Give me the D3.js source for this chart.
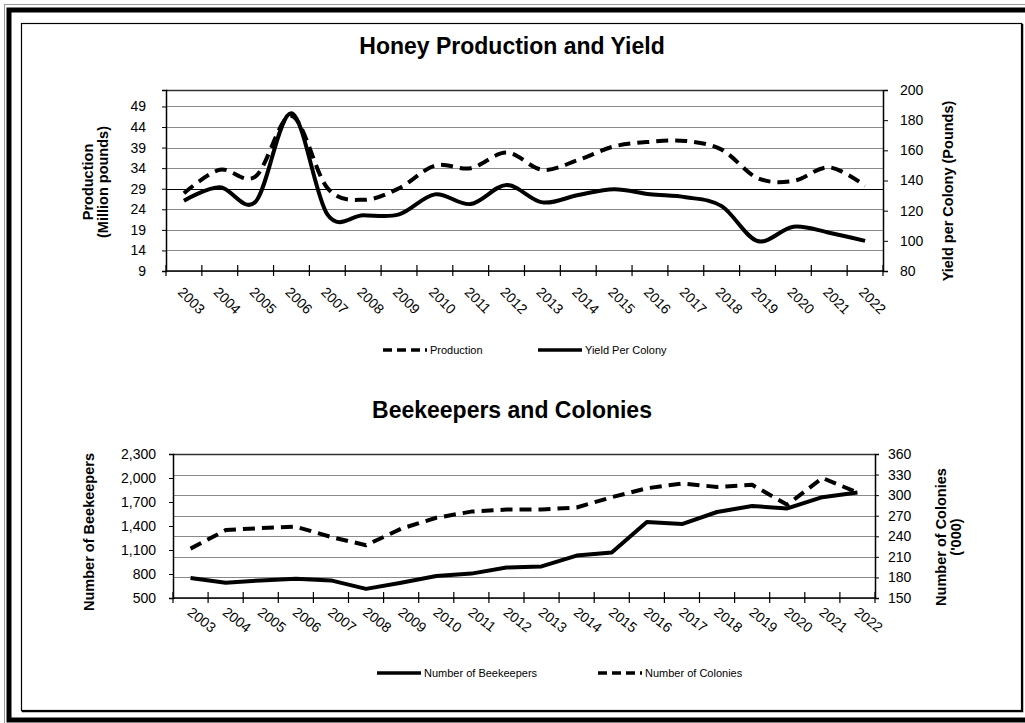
<!DOCTYPE html>
<html><head><meta charset="utf-8">
<script src="https://cdn.jsdelivr.net/npm/d3@7"></script>
<style>body{margin:0;background:#fff}svg text{font-family:Arial,"Liberation Sans",sans-serif;fill:#000}</style>
</head><body><svg id="c" width="1025" height="723"></svg>
<script>
const years = ["2003","2004","2005","2006","2007","2008","2009","2010","2011","2012","2013","2014","2015","2016","2017","2018","2019","2020","2021","2022"];
const production = [27.9,33.6,32.0,46.7,29.2,26.3,29.1,34.6,34.0,37.8,33.6,36.0,39.3,40.4,40.6,38.5,31.6,30.9,34.2,29.7];
const yieldPerColony = [126.6,135.5,126.0,184.6,117.5,117.0,117.5,130.8,124.4,137.0,125.5,130.4,134.2,130.9,128.9,123.0,99.9,109.4,105.4,100.0];
const prodTicks = [9,14,19,24,29,34,39,44,49];
const yieldTicks = [80,100,120,140,160,180,200];
const beekeepers = [750,690,720,740,720,614,690,776,805,881,895,1030,1070,1450,1424,1575,1650,1620,1760,1820];
const colonies = [222,249,252,254,239,227,251,267,276,279,279,282,297,310,317,312,315,286,325,304];
const keeperTicks = [500,800,1100,1400,1700,2000,2300];
const colonyTicks = [150,180,210,240,270,300,330,360];

const svg = d3.select("#c");
const ink = "#000";

// frames
svg.append("rect").attr("x",4.5).attr("y",4.5).attr("width",1040).attr("height",1040).attr("fill","none").attr("stroke","#999").attr("stroke-width",1);
svg.append("rect").attr("x",9).attr("y",10).attr("width",1040).attr("height",710).attr("fill","none").attr("stroke",ink).attr("stroke-width",5);
svg.append("rect").attr("x",22.5).attr("y",24.5).attr("width",1000).attr("height",687).attr("fill","none").attr("stroke",ink).attr("stroke-width",1.5);
svg.append("rect").attr("x",21.5).attr("y",23.5).attr("width",1000).attr("height",687).attr("fill","#fff").attr("stroke",ink).attr("stroke-width",1.2);

function drawChart(o){
  const g = svg.append("g");
  const x = d3.scaleBand().domain(years).range([o.left,o.right]);
  const yL = d3.scaleLinear().domain(o.lDom).range([o.bottom,o.top]);
  const yR = d3.scaleLinear().domain(o.rDom).range([o.bottom,o.top]);
  const gridScale = o.gridOn==="L"? yL : yR;
  const gridTicks = o.gridOn==="L"? o.lTicks : o.rTicks;
  // gridlines
  g.selectAll(".grid").data(gridTicks).join("line")
    .attr("x1",o.left).attr("x2",o.right)
    .attr("y1",d=>Math.round(gridScale(d))+0.5).attr("y2",d=>Math.round(gridScale(d))+0.5)
    .attr("stroke",d=>d===o.darkGrid?"#000":"#8a8a8a").attr("stroke-width",1);
  // top border
  g.append("line").attr("x1",o.left).attr("x2",o.right).attr("y1",o.top+0.5).attr("y2",o.top+0.5).attr("stroke","#333").attr("stroke-width",1.3);
  // left axis
  const la = g.append("g").attr("transform",`translate(${o.left},0)`)
    .call(d3.axisLeft(yL).tickValues(o.lTicks).tickSize(4).tickPadding(o.lPad).tickFormat(o.lFmt));
  la.select(".domain").attr("stroke",ink).attr("stroke-width",1.5);
  la.selectAll("text").style("font-size","14px").attr("fill",ink);
  // right axis
  const ra = g.append("g").attr("transform",`translate(${o.right},0)`)
    .call(d3.axisRight(yR).tickValues(o.rTicks).tickSize(o.rTick).tickPadding(o.rPad).tickFormat(d3.format("d")));
  ra.select(".domain").attr("stroke",ink).attr("stroke-width",1.5);
  ra.selectAll("text").style("font-size","14px").attr("fill",ink);
  // bottom axis line & ticks
  g.append("line").attr("x1",o.left).attr("x2",o.right).attr("y1",o.bottom).attr("y2",o.bottom).attr("stroke",ink).attr("stroke-width",1.5);
  const bounds = years.map(d=>x(d)).concat([o.right]);
  g.selectAll(".xt").data(bounds).join("line")
    .attr("x1",d=>d).attr("x2",d=>d).attr("y1",o.bottom-6).attr("y2",o.bottom+5)
    .attr("stroke",ink).attr("stroke-width",1.2);
  g.selectAll(".xl").data(years).join("text")
    .attr("x",d=>x(d)+x.bandwidth()/2+o.xlDx).attr("y",o.xlY)
    .attr("transform",d=>`rotate(${o.xlAngle},${x(d)+x.bandwidth()/2+o.xlDx},${o.xlY})`)
    .style("font-size","14px").text(d=>d);
  // lines
  const cx = d=>x(d)+x.bandwidth()/2;
  const lineL = d3.line().x((d,i)=>cx(years[i])).y(d=>yL(d)).curve(o.curve);
  const lineR = d3.line().x((d,i)=>cx(years[i])).y(d=>yR(d)).curve(o.curve);
  g.append("path").attr("d",lineL(o.lData)).attr("fill","none").attr("stroke",ink).attr("stroke-width",4)
    .attr("stroke-dasharray",o.lDash||null).attr("stroke-linejoin","round");
  g.append("path").attr("d",lineR(o.rData)).attr("fill","none").attr("stroke",ink).attr("stroke-width",4)
    .attr("stroke-dasharray",o.rDash||null).attr("stroke-linejoin","round");
  // title
  g.append("text").attr("x",512).attr("y",o.titleY).attr("text-anchor","middle")
    .style("font-size","23px").style("font-weight","bold").text(o.title);
  // axis titles
  o.lTitle.forEach((t,i)=>{
    const xx = o.lTitleX + i*15;
    g.append("text").attr("transform",`translate(${xx},${o.lTitleY}) rotate(-90)`).attr("text-anchor","middle")
      .style("font-size","14.5px").style("font-weight","bold").text(t);
  });
  o.rTitle.forEach((t,i)=>{
    const xx = o.rTitleX + i*15;
    g.append("text").attr("transform",`translate(${xx},${o.rTitleY}) rotate(-90)`).attr("text-anchor","middle")
      .style("font-size","14.5px").style("font-weight","bold").text(t);
  });
  // legend
  o.legend.forEach(l=>{
    g.append("line").attr("x1",l.x).attr("x2",l.x+44).attr("y1",o.legY).attr("y2",o.legY)
      .attr("stroke",ink).attr("stroke-width",3.5).attr("stroke-dasharray",l.dash?"9,5":null);
    g.append("text").attr("x",l.x+47).attr("y",o.legY+4).style("font-size","11px").text(l.label);
  });
}

drawChart({
  left:166,right:883,top:90,bottom:271,
  lDom:[9,53],rDom:[80,200],lTicks:prodTicks,rTicks:yieldTicks,gridOn:"L",darkGrid:29,
  lFmt:d3.format("d"),lPad:16,rTick:5,rPad:12,
  xlDx:-7,xlY:293,xlAngle:45,
  curve:d3.curveCardinal.tension(0),
  lData:production,rData:yieldPerColony,lDash:"12,7",rDash:null,
  title:"Honey Production and Yield",titleY:54,
  lTitle:["Production","(Million pounds)"],lTitleX:93,lTitleY:182,
  rTitle:["Yield per Colony (Pounds)"],rTitleX:953,rTitleY:191,
  legY:350,legend:[{x:383,dash:true,label:"Production"},{x:538,dash:false,label:"Yield Per Colony"}]
});

drawChart({
  left:173,right:875,top:454,bottom:598,
  lDom:[500,2300],rDom:[150,360],lTicks:keeperTicks,rTicks:colonyTicks,gridOn:"R",darkGrid:null,
  lFmt:d3.format(","),lPad:13,rTick:4,rPad:9,
  xlDx:-4,xlY:614,xlAngle:38,
  curve:d3.curveLinear,
  lData:beekeepers,rData:colonies,lDash:null,rDash:"12,7",
  title:"Beekeepers and Colonies",titleY:418,
  lTitle:["Number of Beekeepers"],lTitleX:94,lTitleY:532,
  rTitle:["Number of Colonies","('000)"],rTitleX:946,rTitleY:537,
  legY:673,legend:[{x:377,dash:false,label:"Number of Beekeepers"},{x:598,dash:true,label:"Number of Colonies"}]
});
</script></body></html>
